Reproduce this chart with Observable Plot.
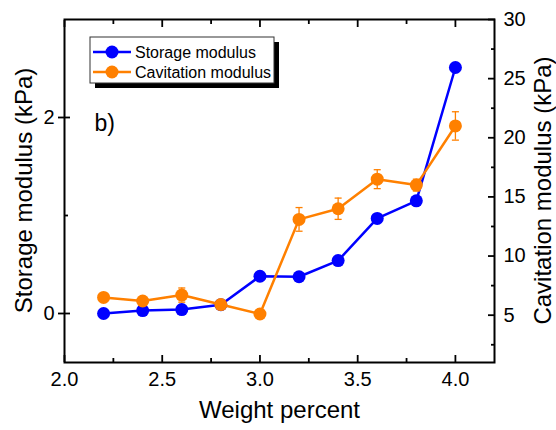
<!DOCTYPE html>
<html><head><meta charset="utf-8">
<script src="https://cdn.jsdelivr.net/npm/d3@7"></script>
<script src="https://cdn.jsdelivr.net/npm/@observablehq/plot@0.6"></script>
<style>body{margin:0;background:#fff;} #chart svg{display:block;}</style>
</head><body><div id="chart"></div>
<script>
const weight = [2.2, 2.4, 2.6, 2.8, 3.0, 3.2, 3.4, 3.6, 3.8, 4.0];
const storage = [0.00, 0.03, 0.04, 0.09, 0.38, 0.375, 0.54, 0.97, 1.15, 2.51];
const cavitation = [6.5, 6.2, 6.7, 5.9, 5.1, 13.1, 14.0, 16.5, 16.0, 21.0];
const cavitationErr = [0.3, 0.3, 0.6, 0.3, 0.2, 1.0, 0.9, 0.8, 0.5, 1.2];
const xTicks = [2.0, 2.5, 3.0, 3.5, 4.0];
const xMinor = [2.25, 2.75, 3.25, 3.75];
const leftTicks = [0, 2];
const leftMinor = [1];
const rightTicks = [5, 10, 15, 20, 25, 30];
const rightMinor = [2.5, 7.5, 12.5, 17.5, 22.5, 27.5];
const leftDomain = [-0.5, 3];
const rightDomain = [1, 30];
const seriesNames = ["Storage modulus", "Cavitation modulus"];
const colors = ["#0000ff", "#ff8000"];
const titles = {x: "Weight percent", left: "Storage modulus (kPa)", right: "Cavitation modulus (kPa)", panel: "b)"};

const toLeft = c => leftDomain[0] + (c - rightDomain[0]) * (leftDomain[1] - leftDomain[0]) / (rightDomain[1] - rightDomain[0]);
const fromLeft = v => rightDomain[0] + (v - leftDomain[0]) * (rightDomain[1] - rightDomain[0]) / (leftDomain[1] - leftDomain[0]);

const data = weight.map((w, i) => ({
  w, s: storage[i], c: toLeft(cavitation[i]),
  lo: toLeft(cavitation[i] - cavitationErr[i]), hi: toLeft(cavitation[i] + cavitationErr[i])
}));
const capW = 0.018;
const tickW = 1.8;
const W = 556, H = 430, mL = 64, mR = 62, mT = 19, mB = 68;

const chart = Plot.plot({
  width: W, height: H,
  marginLeft: mL, marginRight: mR, marginTop: mT, marginBottom: mB,
  style: {fontFamily: "'Liberation Sans', Arial, sans-serif", fontSize: "20px", color: "black", background: "white"},
  x: {domain: [2.0, 4.2]},
  y: {domain: leftDomain},
  marks: [
    // bottom axis
    Plot.axisX(xTicks, {anchor: "bottom", tickSize: 0, tickPadding: 9, tickFormat: d => d.toFixed(1), fontSize: 20, label: null}),
    Plot.axisX(xTicks, {anchor: "bottom", tickSize: -7, fill: "none", strokeWidth: tickW, label: null}),
    Plot.axisX(xMinor, {anchor: "bottom", tickSize: -4, fill: "none", strokeWidth: tickW, label: null}),
    // top axis
    Plot.axisX(xTicks, {anchor: "top", tickSize: -7, fill: "none", strokeWidth: tickW, label: null}),
    Plot.axisX(xMinor, {anchor: "top", tickSize: -4, fill: "none", strokeWidth: tickW, label: null}),
    // left axis
    Plot.axisY(leftTicks, {anchor: "left", tickSize: 0, tickPadding: 10, tickFormat: d => String(d), fontSize: 20, label: null}),
    Plot.axisY(leftTicks, {anchor: "left", tickSize: 6, fill: "none", strokeWidth: tickW, label: null}),
    Plot.axisY(leftTicks, {anchor: "left", tickSize: -6, fill: "none", strokeWidth: tickW, label: null}),
    Plot.axisY(leftMinor, {anchor: "left", tickSize: -4, fill: "none", strokeWidth: tickW, label: null}),
    // right axis
    Plot.axisY(rightTicks.map(toLeft), {anchor: "right", tickSize: 0, tickPadding: 9, tickFormat: d => String(Math.round(fromLeft(d))), fontSize: 20, label: null}),
    Plot.axisY(rightTicks.map(toLeft), {anchor: "right", tickSize: -7, fill: "none", strokeWidth: tickW, label: null}),
    Plot.axisY(rightMinor.map(toLeft), {anchor: "right", tickSize: -4, fill: "none", strokeWidth: tickW, label: null}),
    Plot.frame({stroke: "black", strokeWidth: 2}),
    // panel letter and x title
    Plot.text([titles.x], {frameAnchor: "bottom", dy: 55, fontSize: 24, text: d => d}),
    Plot.text([titles.panel], {frameAnchor: "top-left", dx: 30, dy: 95, textAnchor: "start", fontSize: 23, text: d => d}),
    // storage series
    Plot.line(data, {x: "w", y: "s", stroke: colors[0], strokeWidth: 2.5}),
    Plot.dot(data, {x: "w", y: "s", r: 6.5, fill: colors[0], stroke: "none"}),
    // cavitation series with error bars
    Plot.ruleX(data, {x: "w", y1: "lo", y2: "hi", stroke: colors[1], strokeWidth: 1.3}),
    Plot.link(data, {x1: d => d.w - capW, x2: d => d.w + capW, y1: "hi", y2: "hi", stroke: colors[1], strokeWidth: 1.3}),
    Plot.link(data, {x1: d => d.w - capW, x2: d => d.w + capW, y1: "lo", y2: "lo", stroke: colors[1], strokeWidth: 1.3}),
    Plot.line(data, {x: "w", y: "c", stroke: colors[1], strokeWidth: 2.5}),
    Plot.dot(data, {x: "w", y: "c", r: 6.5, fill: colors[1], stroke: "none"})
  ]
});
document.getElementById("chart").appendChild(chart);

const svg = d3.select(chart);
const midY = (mT + H - mB) / 2;
// rotated axis titles
svg.append("text").attr("transform", `translate(24,${midY}) rotate(-90)`)
  .attr("text-anchor", "middle").attr("dy", "0.35em").attr("font-size", 24).attr("fill", "black").text(titles.left);
svg.append("text").attr("transform", `translate(543,${midY}) rotate(-90)`)
  .attr("text-anchor", "middle").attr("dy", "0.35em").attr("font-size", 24).attr("fill", "black").text(titles.right);

// legend
const lg = svg.append("g").attr("transform", "translate(90,37)");
lg.append("rect").attr("x", 5).attr("y", 5).attr("width", 184).attr("height", 46).attr("fill", "black");
lg.append("rect").attr("x", 0).attr("y", 0).attr("width", 184).attr("height", 46).attr("fill", "white").attr("stroke", "#333").attr("stroke-width", 1);
seriesNames.forEach((name, i) => {
  const y = 15 + i * 20;
  lg.append("line").attr("x1", 3).attr("x2", 41).attr("y1", y).attr("y2", y).attr("stroke", colors[i]).attr("stroke-width", 2.5);
  lg.append("circle").attr("cx", 22).attr("cy", y).attr("r", 6.5).attr("fill", colors[i]);
  lg.append("text").attr("x", 45).attr("y", y).attr("dy", "0.35em").attr("text-anchor", "start").attr("font-size", 16).attr("fill", "black").text(name);
});
</script>
</body></html>
